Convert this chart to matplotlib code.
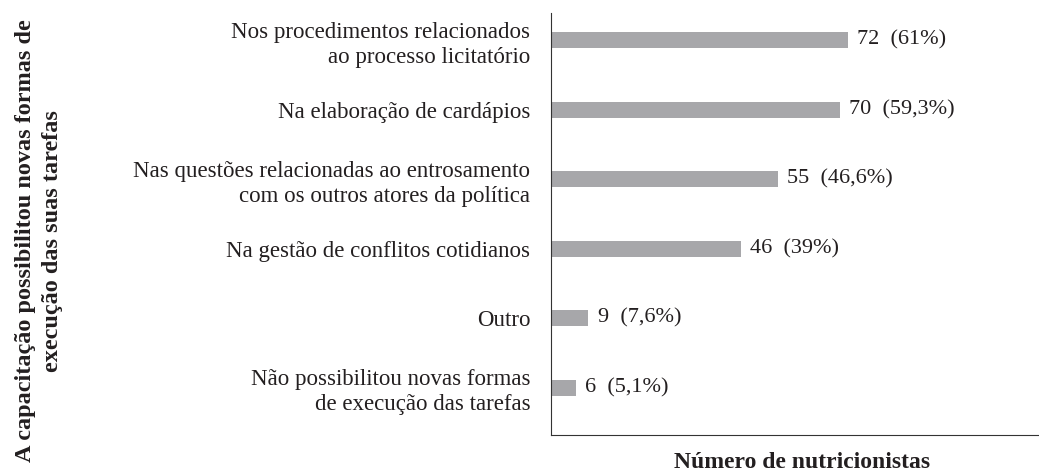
import numpy as np
import matplotlib.pyplot as plt

plt.rcParams['font.family'] = ['Liberation Serif', 'DejaVu Serif']

categorias = ['Nos procedimentos relacionados\nao processo licitatório',
              'Na elaboração de cardápios',
              'Nas questões relacionadas ao entrosamento\ncom os outros atores da política',
              'Na gestão de conflitos cotidianos',
              'Outro',
              'Não possibilitou novas formas\nde execução das tarefas']
valores = [72, 70, 55, 46, 9, 6]
percentuais = ['61%', '59,3%', '46,6%', '39%', '7,6%', '5,1%']

cor_texto = '#231f20'

fig = plt.figure(figsize=(10.39, 4.74), dpi=100)
ax = fig.add_axes([551/1039, 1-435/474, (1039-551)/1039, (435-13)/474])

y = np.arange(len(categorias))
ax.barh(y, valores, height=0.23, color='#a7a7aa')
for yi, v, p in zip(y, valores, percentuais):
    ax.text(v + 2.3, yi, '%d  (%s)' % (v, p), va='center', ha='left', fontsize=16, color=cor_texto)

ax.set_ylim(5.68, -0.39)
ax.set_xlim(0, 118.3)
ax.set_yticks(y)
ax.set_yticklabels(categorias, fontsize=16.5, color=cor_texto, multialignment='right', linespacing=1.25)
ax.set_xticks([])
ax.tick_params(axis='y', length=0, pad=15)
ax.spines['top'].set_visible(False)
ax.spines['right'].set_visible(False)
ax.spines['left'].set_color('#333333')
ax.spines['bottom'].set_color('#333333')

fig.text(802/1039, 1-463/474, 'Número de nutricionistas', ha='center', va='center',
         fontsize=17, fontweight='bold', color=cor_texto)
fig.text(39/1039, 1-241/474, 'A capacitação possibilitou novas formas de\nexecução das suas tarefas',
         rotation=90, ha='center', va='center', fontsize=17.5, fontweight='bold',
         multialignment='center', color=cor_texto, linespacing=1.35)

plt.savefig('out.png', dpi=100)
